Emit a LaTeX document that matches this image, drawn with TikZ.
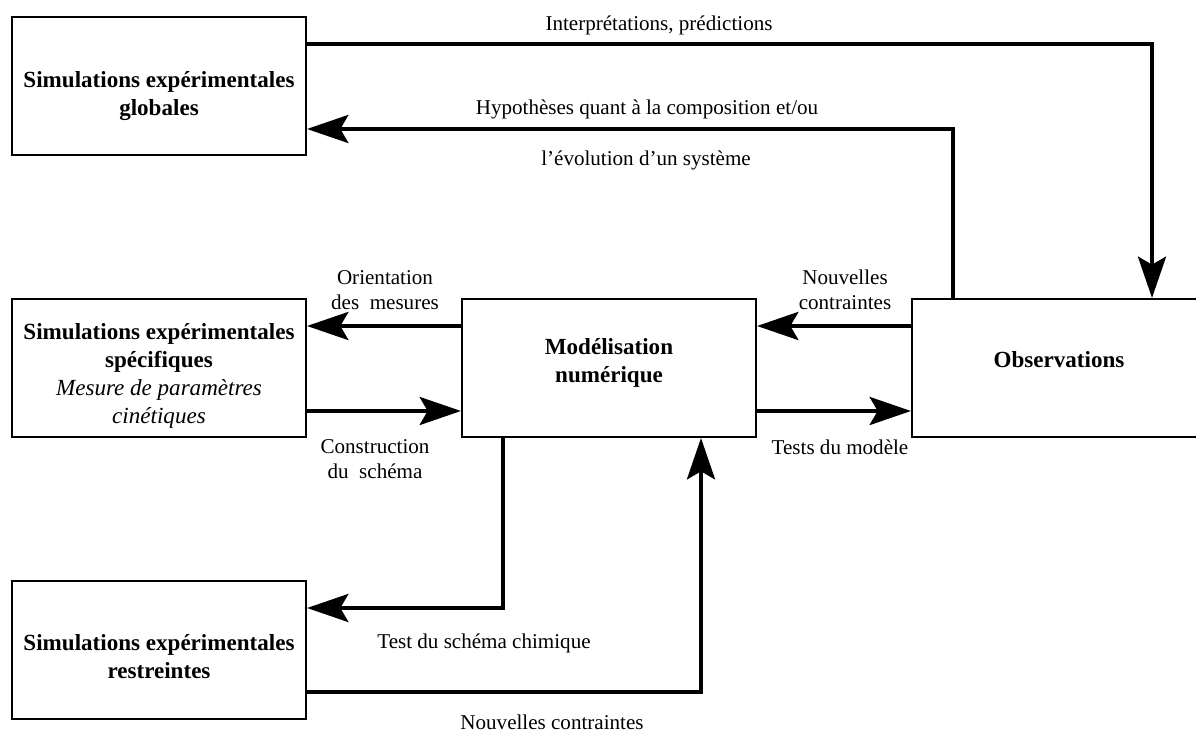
\documentclass[tikz,border=0pt]{standalone}
\usepackage{fontspec}
\setmainfont{Liberation Serif}
\usetikzlibrary{arrows.meta}

\begin{document}
\begin{tikzpicture}[x=0.75pt, y=-0.75pt,
    box/.style={draw, line width=1.5pt, minimum width=220.5pt, minimum height=103.5pt, inner sep=0pt},
    title/.style={align=center, inner sep=0pt, font=\fontsize{17.3}{21}\selectfont\bfseries},
    flow/.style={line width=3pt, -{Stealth[length=31pt, width=21pt, inset=6pt]}},
    lbl/.style={align=center, inner sep=0pt, font=\fontsize{15.8}{19}\selectfont}]
    \useasboundingbox (0,0) rectangle (1196,734);
      % boxes
      \node [box] (glob) at (159, 86.5) {};
      \node [box] (spec) at (159, 368) {};
      \node [box] (model) at (609, 368) {};
      \node [box] (obs) at (1059, 368) {};
      \node [box] (restr) at (159, 650) {};
      \node [title] (globtxt) at ([yshift=-7pt]glob.center) {Simulations expérimentales\\globales};
      \node [title] (spectxt) at ([yshift=-6pt]spec.center) {Simulations expérimentales\\spécifiques\\
        {\mdseries\itshape Mesure de paramètres}\\{\mdseries\itshape cinétiques}};
      \node [title] (modeltxt) at ([yshift=4pt]model.center) {Modélisation\\numérique};
      \node [title] (obstxt) at ([yshift=6pt]obs.center) {Observations};
      \node [title] (restrtxt) at ([yshift=-5pt]restr.center) {Simulations expérimentales\\restreintes};
      % turning points
      \coordinate (top) at (1152, 44);
      \coordinate (hyp) at (953, 129);
      \coordinate (hi) at (0, 326);
      \coordinate (lo) at (0, 411);
      \coordinate (dn) at (503, 608);
      \coordinate (up) at (701, 692);
      % connectors
      \draw [flow] (glob.east |- top) -| (obs.north -| top);
      \draw [flow] (obs.north -| hyp) |- (glob.east |- hyp);
      \draw [flow] (model.west |- hi) -- (spec.east |- hi);
      \draw [flow] (spec.east |- lo) -- (model.west |- lo);
      \draw [flow] (obs.west |- hi) -- (model.east |- hi);
      \draw [flow] (model.east |- lo) -- (obs.west |- lo);
      \draw [flow] (model.south -| dn) |- (restr.east |- dn);
      \draw [flow] (restr.east |- up) -| (model.south -| up);
      % labels
      \node [lbl] (interp) at (659, 25) {Interprétations, prédictions};
      \node [lbl] (hyptxt) at (647, 109) {Hypothèses quant à la composition et/ou};
      \node [lbl] (evol) at (646, 160) {l’évolution d’un système};
      \node [lbl] (orient) at (385, 290) {Orientation\\des~ mesures};
      \node [lbl] (constr) at (375, 459) {Construction\\du~ schéma};
      \node [lbl] (nouv) at (845, 290) {Nouvelles\\contraintes};
      \node [lbl] (tests) at (840, 447) {Tests du modèle};
      \node [lbl] (testch) at (484, 643) {Test du schéma chimique};
      \node [lbl] (nouvbas) at (552, 722) {Nouvelles contraintes};
    \end{tikzpicture}
\end{document}
